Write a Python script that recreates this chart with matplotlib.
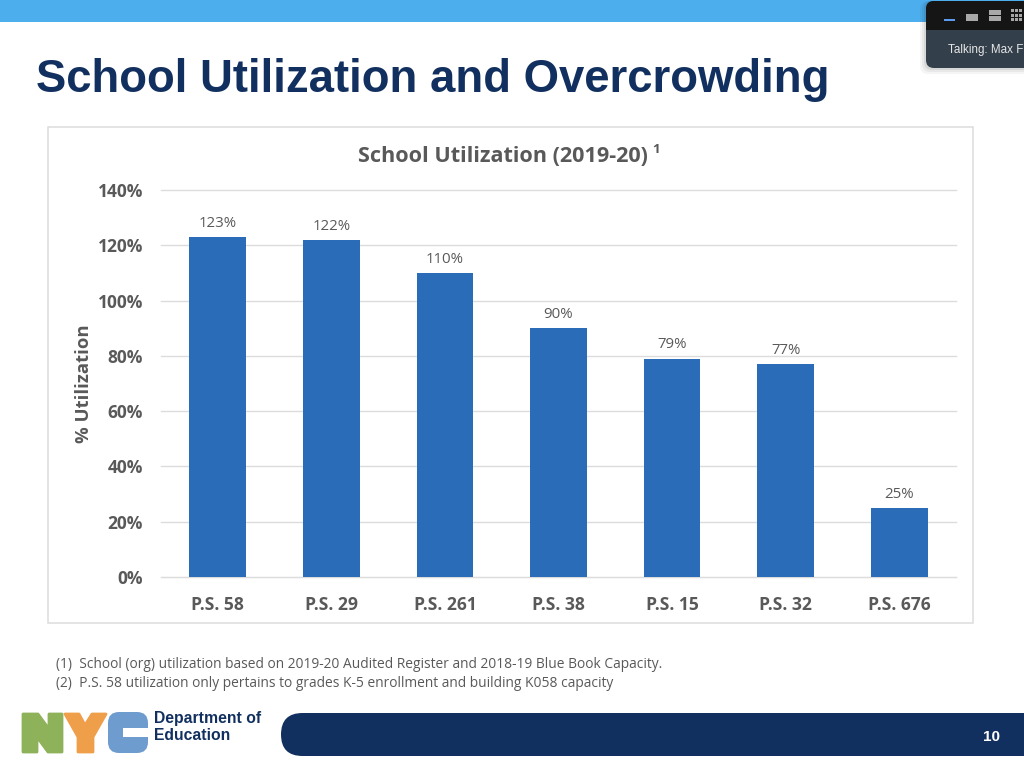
import matplotlib
matplotlib.use('Agg')
import matplotlib.pyplot as plt
from matplotlib.patches import FancyBboxPatch, Polygon, Rectangle

W, H = 1024, 760

schools = ['P.S. 58', 'P.S. 29', 'P.S. 261', 'P.S. 38', 'P.S. 15', 'P.S. 32', 'P.S. 676']
utilization = [123, 122, 110, 90, 79, 77, 25]
y_ticks = [0, 20, 40, 60, 80, 100, 120, 140]
footnotes = [
    '(1)  School (org) utilization based on 2019-20 Audited Register and 2018-19 Blue Book Capacity.',
    '(2)  P.S. 58 utilization only pertains to grades K-5 enrollment and building K058 capacity',
]

NAVY = '#12305f'
BLUE = '#2b6cb8'
GREY = '#595959'
CHART_FONT = 'Open Sans'
SLIDE_FONT = 'Liberation Sans'

fig = plt.figure(figsize=(W / 100, H / 100), dpi=100, facecolor='white')


def axes_px(left, top, right, bottom):
    return fig.add_axes([left / W, 1 - bottom / H, (right - left) / W, (bottom - top) / H])


# slide layer, in pixel coordinates
bg = fig.add_axes([0, 0, 1, 1])
bg.set_xlim(0, W)
bg.set_ylim(H, 0)
bg.axis('off')

bg.add_patch(Rectangle((0, 0), W, 22, color='#4daeee', lw=0))
bg.text(36, 91.5, 'School Utilization and Overcrowding', color=NAVY, fontsize=32.8,
        fontweight='bold', family=SLIDE_FONT, va='baseline', ha='left')

bg.add_patch(Rectangle((47.5, 127), 925, 496, fc='white', ec='#dcdcdc', lw=1.1))
bg.text(358, 162, 'School Utilization (2019-20)', color=GREY, fontsize=15.6,
        fontweight='bold', family=CHART_FONT, va='baseline', ha='left')
bg.text(652, 153, '1', color=GREY, fontsize=9.5, fontweight='bold', family=CHART_FONT,
        va='baseline', ha='left')

for i, note in enumerate(footnotes):
    bg.text(56, 664.5 + i * 19, note, color=GREY, fontsize=9.95, family=CHART_FONT,
            va='center', ha='left')

# NYC logo
GREEN_LOGO, ORANGE_LOGO, BLUE_LOGO = '#8db25a', '#ef9f4a', '#6f9ccf'
bg.add_patch(Polygon([(23, 714), (38, 714), (49, 729), (49, 714), (62, 714), (62, 752),
                      (48, 752), (37, 737), (37, 752), (23, 752)],
                     fc=GREEN_LOGO, ec=GREEN_LOGO, lw=2, joinstyle='round'))
bg.add_patch(Polygon([(65, 714), (79, 714), (85, 725), (92, 714), (106, 714), (93, 737),
                      (93, 752), (78, 752), (78, 737)],
                     fc=ORANGE_LOGO, ec=ORANGE_LOGO, lw=2, joinstyle='round'))
bg.add_patch(FancyBboxPatch((108, 712), 40, 41, boxstyle='round,pad=0,rounding_size=11',
                            fc=BLUE_LOGO, ec='none'))
bg.add_patch(Rectangle((123, 728), 26, 9, fc='white', lw=0))
bg.text(154, 723.5, 'Department of', color=NAVY, fontsize=11.3, fontweight='bold',
        family=SLIDE_FONT, va='baseline', ha='left')
bg.text(154, 740, 'Education', color=NAVY, fontsize=11.3, fontweight='bold',
        family=SLIDE_FONT, va='baseline', ha='left')

# footer band
bg.add_patch(FancyBboxPatch((281, 713), 790, 43, boxstyle='round,pad=0,rounding_size=21.5',
                            fc=NAVY, ec='none'))
bg.text(991, 737, '10', color='white', fontsize=11, fontweight='bold', family=SLIDE_FONT,
        va='center', ha='center')

# video call overlay
for spread, alpha in [(6, 0.04), (4, 0.05), (2, 0.07)]:
    bg.add_patch(FancyBboxPatch((926 - spread, 1), 120, 67 + spread,
                                boxstyle='round,pad=0,rounding_size=8',
                                fc='black', ec='none', alpha=alpha))
bg.add_patch(FancyBboxPatch((926, 1), 120, 67, boxstyle='round,pad=0,rounding_size=8',
                            fc='#333f4b', ec='none'))
bg.add_patch(FancyBboxPatch((926, 1), 120, 29, boxstyle='round,pad=0,rounding_size=8',
                            fc='#151515', ec='none'))
bg.add_patch(Rectangle((926, 20), 98, 10, fc='#151515', lw=0))
bg.add_patch(Rectangle((944, 18.5), 11, 2.5, fc='#5b9bf0', lw=0))
bg.add_patch(Rectangle((966, 14), 12, 7, fc='#a8a8a8', lw=0))
bg.add_patch(Rectangle((989, 10), 12, 5, fc='#a8a8a8', lw=0))
bg.add_patch(Rectangle((989, 16), 12, 5, fc='#a8a8a8', lw=0))
for gx in (1011, 1015, 1019):
    for gy in (9, 13.5, 18):
        bg.add_patch(Rectangle((gx, gy), 3.2, 3.2, fc='#a8a8a8', lw=0))
bg.text(948, 50, 'Talking: Max F', color='#e6e6e6', fontsize=8.4, family=SLIDE_FONT,
        va='center', ha='left')

# chart
ax = axes_px(161, 190, 956, 577)
ax.patch.set_alpha(0)
x = range(len(schools))
bars = ax.bar(x, utilization, width=0.5, color=BLUE, zorder=3)
ax.set_xlim(-0.5, len(schools) - 0.5)
ax.set_ylim(0, 140)
ax.set_yticks(y_ticks)
ax.set_yticklabels([f'{v}%' for v in y_ticks], fontsize=12.5, fontweight='bold',
                   color=GREY, family=CHART_FONT)
ax.set_xticks(list(x))
ax.set_xticklabels(schools, fontsize=12.6, fontweight='bold', color=GREY, family=CHART_FONT)
ax.tick_params(length=0)
ax.tick_params(axis='x', pad=14)
ax.tick_params(axis='y', pad=13)
ax.grid(axis='y', color='#dcdcdc', lw=1.0, zorder=0)
for line in ax.get_ygridlines():
    line.set_clip_on(False)
for name, spine in ax.spines.items():
    spine.set_visible(name == 'bottom')
ax.spines['bottom'].set_color('#dcdcdc')
ax.set_ylabel('% Utilization', fontsize=13.3, fontweight='bold', color=GREY,
              family=CHART_FONT, labelpad=3)
for bar, value in zip(bars, utilization):
    ax.annotate(f'{value}%', (bar.get_x() + bar.get_width() / 2, value), xytext=(0, 4.5),
                textcoords='offset points', ha='center', va='bottom', fontsize=10.8,
                color=GREY, family=CHART_FONT)

fig.savefig('out.png', dpi=100)
